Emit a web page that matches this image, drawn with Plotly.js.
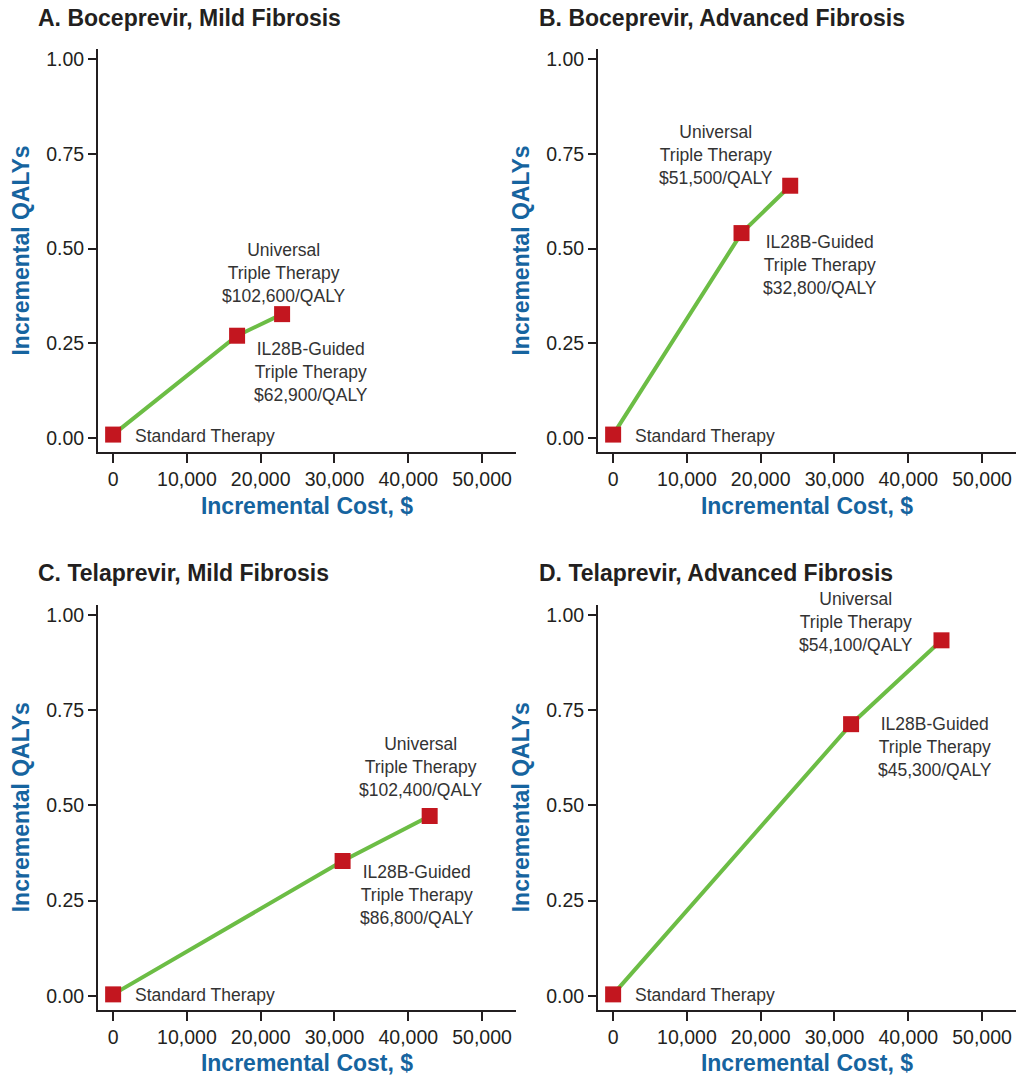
<!DOCTYPE html>
<html><head><meta charset="utf-8">
<script src="https://cdn.plot.ly/plotly-3.0.1.min.js"></script>
<style>html,body{margin:0;padding:0;background:#fff}#chart{width:1016px;height:1076px}</style>
</head><body><div id="chart"></div>
<script>
// ---- data ----
const strategyLabels = ["Standard Therapy", "IL28B-Guided<br>Triple Therapy", "Universal<br>Triple Therapy"];
const panelTitles = ["A. Boceprevir, Mild Fibrosis", "B. Boceprevir, Advanced Fibrosis", "C. Telaprevir, Mild Fibrosis", "D. Telaprevir, Advanced Fibrosis"];
const costA = [0, 16800, 22900];  const qalyA = [0.009, 0.270, 0.327];
const costB = [0, 17400, 24000];  const qalyB = [0.009, 0.541, 0.666];
const costC = [0, 31100, 42900];  const qalyC = [0.004, 0.354, 0.472];
const costD = [0, 32250, 44500];  const qalyD = [0.004, 0.713, 0.933];
const icerA = ["", "$62,900/QALY", "$102,600/QALY"];
const icerB = ["", "$32,800/QALY", "$51,500/QALY"];
const icerC = ["", "$86,800/QALY", "$102,400/QALY"];
const icerD = ["", "$45,300/QALY", "$54,100/QALY"];
const xTickVals = [0, 10000, 20000, 30000, 40000, 50000];
const xTickText = ["0", "10,000", "20,000", "30,000", "40,000", "50,000"];
const yTickVals = [0, 0.25, 0.5, 0.75, 1.0];
const yTickText = ["0.00", "0.25", "0.50", "0.75", "1.00"];
const xTitle = "Incremental Cost, $";
const yTitle = "Incremental QALYs";

// ---- layout helpers ----
const W = 1016, H = 1076;
const panels = [
  {cost: costA, qaly: qalyA, icer: icerA, px: [98, 516], py: [49, 452], tx: 36, ty: 18,
   off: [[20, 1, 'left'], [74, 36, 'center'], [2, -41, 'center']]},
  {cost: costB, qaly: qalyB, icer: icerB, px: [598, 1016], py: [49, 452], tx: 537, ty: 18,
   off: [[20, 1, 'left'], [78, 32, 'center'], [-74, -31, 'center']]},
  {cost: costC, qaly: qalyC, icer: icerC, px: [98, 516], py: [604.5, 1010], tx: 36, ty: 573,
   off: [[20, 1, 'left'], [74, 34, 'center'], [-9, -49, 'center']]},
  {cost: costD, qaly: qalyD, icer: icerD, px: [598, 1016], py: [604.5, 1010], tx: 537, ty: 573,
   off: [[20, 1, 'left'], [84, 23, 'center'], [-85, -18, 'center']]}
];

const axisColor = '#231f20';
const titleBlue = '#16649f';
const traces = [];
const annotations = [];
const layout = {
  width: W, height: H,
  margin: {l: 0, r: 0, t: 0, b: 0},
  paper_bgcolor: '#ffffff', plot_bgcolor: '#ffffff',
  showlegend: false,
  font: {family: 'Liberation Sans, Arial, sans-serif', color: axisColor}
};

panels.forEach((p, i) => {
  const n = i + 1;
  const xa = 'x' + (n === 1 ? '' : n), ya = 'y' + (n === 1 ? '' : n);
  traces.push({
    type: 'scatter', mode: 'lines+markers',
    x: p.cost, y: p.qaly, xaxis: xa, yaxis: ya,
    line: {color: '#6cbd45', width: 4},
    marker: {symbol: 'square', size: 16, color: '#c3161f', line: {width: 0}},
    cliponaxis: false, hoverinfo: 'skip'
  });
  const xKey = 'xaxis' + (n === 1 ? '' : n), yKey = 'yaxis' + (n === 1 ? '' : n);
  layout[xKey] = {
    domain: [p.px[0] / W, p.px[1] / W], anchor: ya,
    range: [-2050, 54600], fixedrange: true,
    tickvals: xTickVals, ticktext: xTickText,
    ticks: 'outside', ticklen: 9, tickwidth: 2, tickcolor: axisColor,
    showline: true, linecolor: axisColor, linewidth: 2,
    showgrid: false, zeroline: false,
    tickfont: {size: 19.5, color: axisColor, family: 'Liberation Sans, Arial, sans-serif'},
    title: {text: xTitle, standoff: 8, font: {size: 23, color: titleBlue, family: 'Liberation Sans, Arial, sans-serif', weight: 'bold'}}
  };
  layout[yKey] = {
    domain: [1 - p.py[1] / H, 1 - p.py[0] / H], anchor: xa,
    range: [-0.037, 1.027], fixedrange: true,
    tickvals: yTickVals, ticktext: yTickText,
    ticks: 'outside', ticklen: 8, tickwidth: 2, tickcolor: axisColor,
    showline: true, linecolor: axisColor, linewidth: 2,
    showgrid: false, zeroline: false,
    tickfont: {size: 19.5, color: axisColor, family: 'Liberation Sans, Arial, sans-serif'},
    title: {text: yTitle, standoff: 10, font: {size: 23, color: titleBlue, family: 'Liberation Sans, Arial, sans-serif', weight: 'bold'}}
  };
  annotations.push({
    xref: 'paper', yref: 'paper', x: p.tx / W, y: 1 - p.ty / H,
    xanchor: 'left', yanchor: 'middle', showarrow: false,
    text: '<b>' + panelTitles[i] + '</b>',
    font: {size: 23, color: '#231f20', family: 'Liberation Sans, Arial, sans-serif'}
  });
  p.cost.forEach((c, k) => {
    const o = p.off[k];
    annotations.push({
      xref: xa, yref: ya, x: c, y: p.qaly[k],
      xanchor: o[2], yanchor: 'middle', align: 'center',
      xshift: o[0], yshift: -o[1], showarrow: false,
      text: strategyLabels[k] + (p.icer[k] ? '<br>' + p.icer[k] : ''),
      font: {size: 17.5, color: '#333333', family: 'Liberation Sans, Arial, sans-serif'}
    });
  });
});
layout.annotations = annotations;

Plotly.newPlot('chart', traces, layout, {staticPlot: true, displayModeBar: false});
</script>
</body></html>
